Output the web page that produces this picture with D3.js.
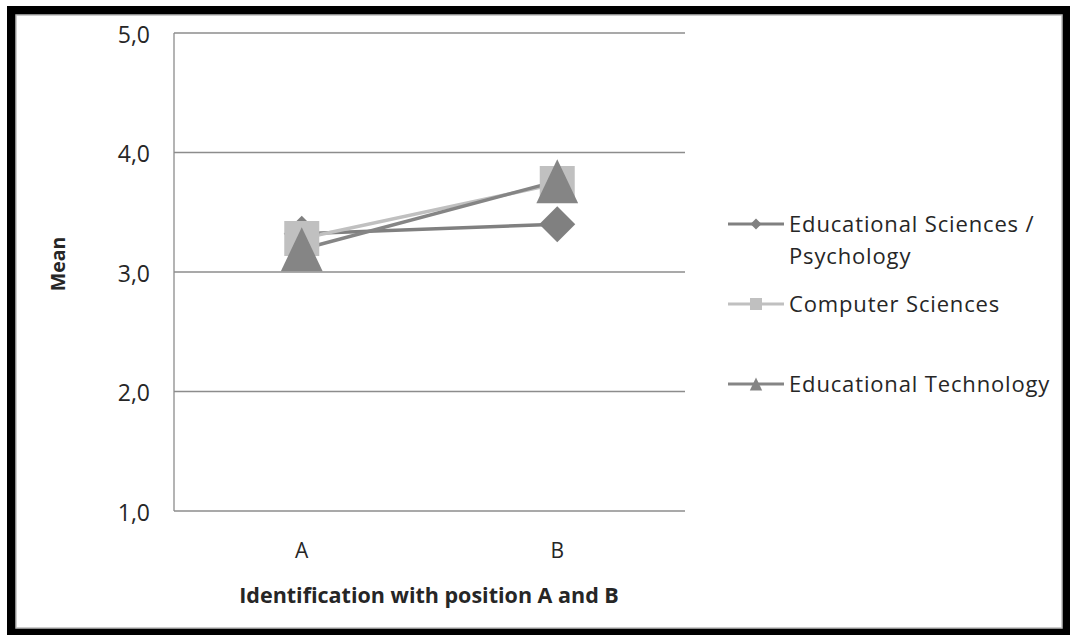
<!DOCTYPE html>
<html><head><meta charset="utf-8">
<script src="https://cdn.jsdelivr.net/npm/d3@7/dist/d3.min.js"></script>
<style>html,body{margin:0;padding:0;background:#fff;overflow:hidden}</style>
</head><body><svg id="c" width="1070" height="635"></svg>
<script>
const categories = ["A", "B"];
const seriesNames = ["Educational Sciences / Psychology", "Computer Sciences", "Educational Technology"];
const eduSciPsy = [3.32, 3.40];
const compSci = [3.28, 3.74];
const eduTech = [3.19, 3.76];
const yTicks = [1, 2, 3, 4, 5];

const svg = d3.select("#c");
const font = "'Open Sans', 'DejaVu Sans', sans-serif";
const textCol = "#262626";

// frame
svg.append("rect").attr("x", 7).attr("y", 6).attr("width", 1063).attr("height", 629).attr("fill", "#000");
svg.append("rect").attr("x", 16).attr("y", 15).attr("width", 1046).attr("height", 613).attr("fill", "#fff")
  .attr("stroke", "#bdbdbd").attr("stroke-width", 1.5);

const m = {l: 174, t: 33, r: 685, b: 511};
const x = d3.scaleBand().domain(categories).range([m.l, m.r]);
const y = d3.scaleLinear().domain([1, 5]).range([m.b, m.t]);

// gridlines
svg.append("g").selectAll("line").data(yTicks).join("line")
  .attr("x1", m.l).attr("x2", m.r).attr("y1", d => y(d)).attr("y2", d => y(d))
  .attr("stroke", "#8c8c8c").attr("stroke-width", 1.3);
svg.append("line").attr("x1", m.l).attr("x2", m.l).attr("y1", m.t).attr("y2", m.b)
  .attr("stroke", "#8c8c8c").attr("stroke-width", 1.3);

// y axis labels
const yAxis = d3.axisLeft(y).tickValues(yTicks).tickSize(0).tickPadding(24)
  .tickFormat(d => d3.format(".1f")(d).replace(".", ","));
const ga = svg.append("g").attr("transform", `translate(${m.l},0)`).call(yAxis);
ga.select(".domain").remove();
ga.selectAll("text").attr("font-family", font).attr("font-size", 23).attr("fill", textCol).attr("dy", "0.4em");

// x axis labels
const xAxis = d3.axisBottom(x).tickSize(0).tickPadding(32);
const gx = svg.append("g").attr("transform", `translate(0,${m.b})`).call(xAxis);
gx.select(".domain").remove();
gx.selectAll("text").attr("font-family", font).attr("font-size", 21).attr("fill", textCol);

// titles
svg.append("text").attr("x", 429).attr("y", 603).attr("text-anchor", "middle")
  .attr("font-family", font).attr("font-size", 21.5).attr("font-weight", "bold").attr("fill", textCol)
  .text("Identification with position A and B");
svg.append("text").attr("transform", "translate(65,264) rotate(-90)").attr("text-anchor", "middle")
  .attr("font-family", font).attr("font-size", 19.5).attr("font-weight", "bold").attr("fill", textCol)
  .text("Mean");

const series = [
  {name: seriesNames[0], values: eduSciPsy, color: "#808080", shape: "diamond", size: 36},
  {name: seriesNames[1], values: compSci, color: "#c0c0c0", shape: "square", size: 35},
  {name: seriesNames[2], values: eduTech, color: "#858585", shape: "triangle", size: 44}
];

function markerPath(shape, sz) {
  const h = sz / 2;
  if (shape === "square") return `M${-h},${-h}H${h}V${h}H${-h}Z`;
  if (shape === "diamond") return `M0,${-h}L${h},0L0,${h}L${-h},0Z`;
  return `M0,${-h}L${h*0.95},${h}L${-h*0.95},${h}Z`;
}

const line = d3.line().x((d, i) => x(categories[i]) + x.bandwidth() / 2).y(d => y(d));
series.forEach(s => {
  svg.append("path").attr("d", line(s.values)).attr("fill", "none")
    .attr("stroke", s.color).attr("stroke-width", 3.5);
});
series.forEach(s => {
  svg.append("g").selectAll("path").data(s.values).join("path")
    .attr("transform", (d, i) => `translate(${x(categories[i]) + x.bandwidth() / 2},${y(d)})`)
    .attr("d", markerPath(s.shape, s.size)).attr("fill", s.color);
});

// legend
const leg = [
  {s: series[0], ly: 224, lines: ["Educational Sciences /", "Psychology"], ms: 11},
  {s: series[1], ly: 304, lines: ["Computer Sciences"], ms: 12},
  {s: series[2], ly: 384, lines: ["Educational Technology"], ms: 13}
];
leg.forEach(L => {
  svg.append("line").attr("x1", 728).attr("x2", 784).attr("y1", L.ly).attr("y2", L.ly)
    .attr("stroke", L.s.color).attr("stroke-width", 3);
  svg.append("path").attr("transform", `translate(756,${L.ly})`).attr("d", markerPath(L.s.shape, L.ms)).attr("fill", L.s.color);
  const t = svg.append("text").attr("x", 789).attr("y", L.ly + 8).attr("font-family", font)
    .attr("font-size", 22).attr("fill", textCol).attr("letter-spacing", 0.85);
  L.lines.forEach((ln, i) => t.append("tspan").attr("x", 789).attr("dy", i === 0 ? 0 : 32).text(ln));
});
</script></body></html>
